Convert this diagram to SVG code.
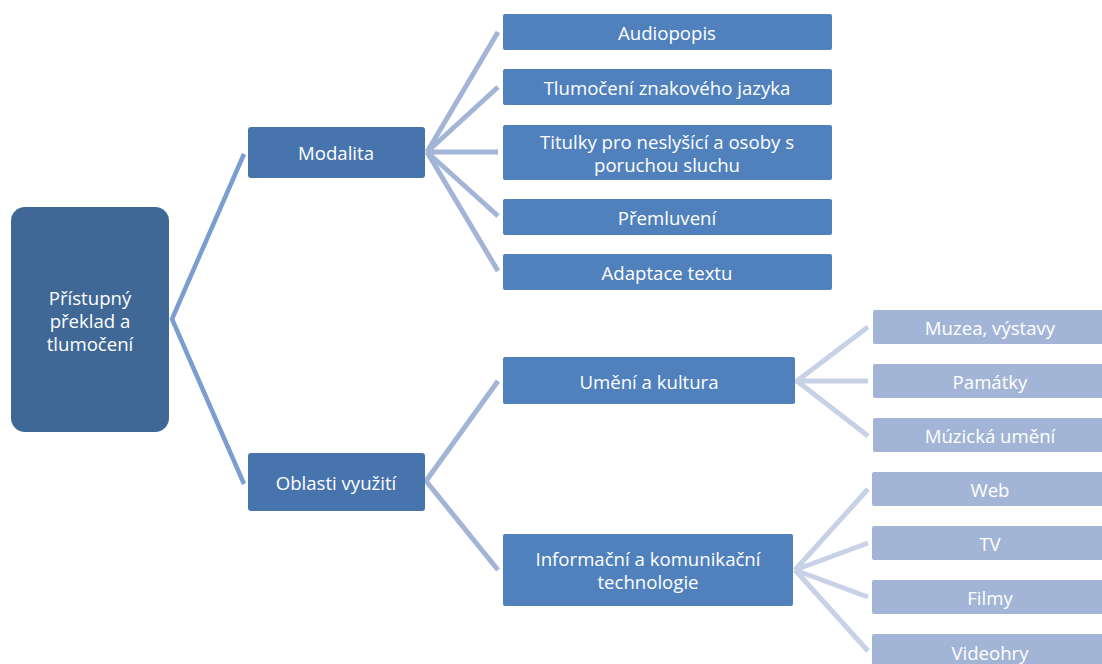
<svg xmlns="http://www.w3.org/2000/svg" width="1102" height="664" viewBox="0 0 1102 664">
<style>
text{font-family:"Open Sans","Noto Sans","Liberation Sans",sans-serif;font-size:18.6px;fill:#fff;text-anchor:middle;dominant-baseline:central}
.l1{fill:#3f6896}
.l2{fill:#4874ae}
.l3{fill:#5081bd}
.l4{fill:#a3b5d6}
.c1{stroke:#7b9dcf;stroke-width:4.5;fill:none}
.c2{stroke:#a3b5d6;stroke-width:5;fill:none}
.c3{stroke:#c8d2e7;stroke-width:5;fill:none}
</style>
<rect width="1102" height="664" fill="#fff"/>
<g id="connectors">
<path class="c1" d="M244,154 L172,319 L244,484"/>
<path class="c2" d="M498,32 L427,152 L498,87 M427,152 L498,152 M498,216 L427,152 L498,271"/>
<path class="c2" d="M498,381 L426,481 L498,570"/>
<path class="c3" d="M868,327 L797,381 L868,381 M797,381 L868,436"/>
<path class="c3" d="M868,489 L795,570 L868,543 M795,570 L868,597 M795,570 L868,651"/>
</g>
<g id="root"><rect class="l1" x="11" y="207" width="158" height="225" rx="14"/><text x="90" y="297">Přístupný</text><text x="90" y="320">překlad a</text><text x="90" y="343">tlumočení</text></g>
<g id="modalita"><rect class="l2" x="248" y="127" width="177" height="51" rx="3"/><text x="336" y="152">Modalita</text></g>
<g id="oblasti"><rect class="l2" x="248" y="453" width="177" height="58" rx="3"/><text x="336" y="482">Oblasti využití</text></g>
<g id="audiopopis"><rect class="l3" x="503" y="14" width="329" height="36" rx="2"/><text x="667" y="32">Audiopopis</text></g>
<g id="tlumoceni"><rect class="l3" x="503" y="69" width="329" height="36" rx="2"/><text x="667" y="87">Tlumočení znakového jazyka</text></g>
<g id="titulky"><rect class="l3" x="503" y="125" width="329" height="55" rx="2"/><text x="667" y="141">Titulky pro neslyšící a osoby s</text><text x="667" y="164">poruchou sluchu</text></g>
<g id="premluveni"><rect class="l3" x="503" y="199" width="329" height="36" rx="2"/><text x="667" y="217">Přemluvení</text></g>
<g id="adaptace"><rect class="l3" x="503" y="254" width="329" height="36" rx="2"/><text x="667" y="272">Adaptace textu</text></g>
<g id="umeni"><rect class="l3" x="503" y="357" width="292" height="47" rx="2"/><text x="649" y="381">Umění a kultura</text></g>
<g id="ikt"><rect class="l3" x="503" y="534" width="290" height="72" rx="2"/><text x="648" y="558">Informační a komunikační</text><text x="648" y="581">technologie</text></g>
<g id="muzea"><rect class="l4" x="873" y="310" width="232" height="34" rx="2"/><text x="990" y="327">Muzea, výstavy</text></g>
<g id="pamatky"><rect class="l4" x="873" y="364" width="232" height="34" rx="2"/><text x="990" y="381">Památky</text></g>
<g id="muzicka"><rect class="l4" x="873" y="418" width="232" height="34" rx="2"/><text x="990" y="435">Múzická umění</text></g>
<g id="web"><rect class="l4" x="872" y="472" width="233" height="34" rx="2"/><text x="990" y="489">Web</text></g>
<g id="tv"><rect class="l4" x="872" y="526" width="233" height="34" rx="2"/><text x="990" y="543">TV</text></g>
<g id="filmy"><rect class="l4" x="872" y="580" width="233" height="34" rx="2"/><text x="990" y="597">Filmy</text></g>
<g id="videohry"><rect class="l4" x="872" y="634" width="233" height="40" rx="2"/><text x="990" y="652">Videohry</text></g>
</svg>
